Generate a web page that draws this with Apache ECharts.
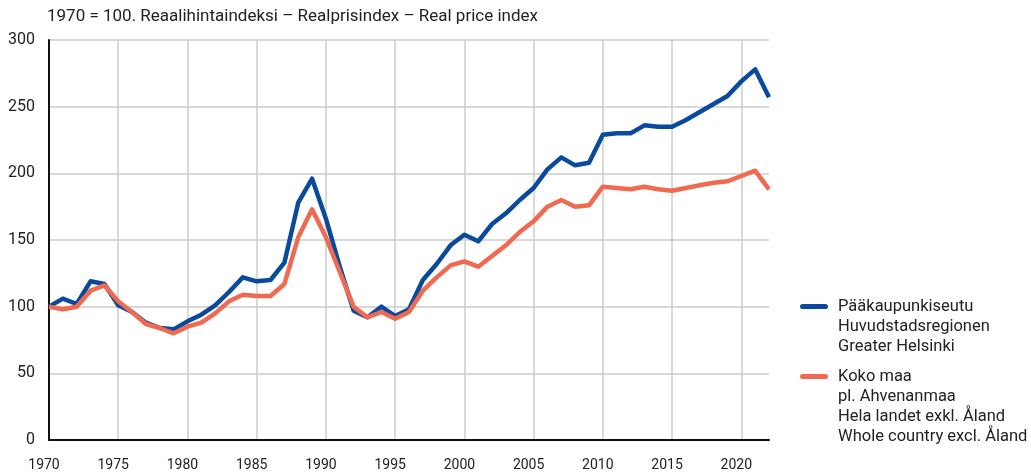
<!DOCTYPE html>
<html>
<head>
<meta charset="utf-8">
<script src="https://cdn.jsdelivr.net/npm/echarts@6/dist/echarts.min.js"></script>
<style>
html,body{margin:0;padding:0;background:#fff;}
#chart{width:1031px;height:476px;}
</style>
</head>
<body>
<div id="chart"></div>
<script>
const years = ['1970','1971','1972','1973','1974','1975','1976','1977','1978','1979',
  '1980','1981','1982','1983','1984','1985','1986','1987','1988','1989',
  '1990','1991','1992','1993','1994','1995','1996','1997','1998','1999',
  '2000','2001','2002','2003','2004','2005','2006','2007','2008','2009',
  '2010','2011','2012','2013','2014','2015','2016','2017','2018','2019',
  '2020','2021','2022'];
const helsinki = [100,106,102,119,117,101,96,88,84,83,
  89,94,101,111,122,119,120,133,178,196,
  166,130,97,92,100,93,98,120,132,146,
  154,149,162,170,180,189,203,212,206,208,
  229,230,230,236,235,235,240,246,252,258,
  269,278,257];
const wholeCountry = [100,98,100,112,116,104,96,87,84,80,
  85,88,95,104,109,108,108,117,152,173,
  152,126,100,92,96,91,96,112,122,131,
  134,130,138,146,156,164,175,180,175,176,
  190,189,188,190,188,187,189,191,193,194,
  198,202,188];
const seriesNames = ['Pääkaupunkiseutu\nHuvudstadsregionen\nGreater Helsinki',
  'Koko maa\npl. Ahvenanmaa\nHela landet exkl. Åland\nWhole country excl. Åland'];
const titleText = '1970 = 100. Reaalihintaindeksi – Realprisindex – Real price index';

const FONT = "Roboto, 'Noto Sans', sans-serif";
const BLUE = '#0a4a9c';
const ORANGE = '#ef6a50';
const TXT = '#222';

const chart = echarts.init(document.getElementById('chart'), null, {renderer:'canvas'});
chart.setOption({
  animation:false,
  textStyle:{fontFamily:FONT},
  title:{text:titleText, left:47, top:8, padding:0,
    textStyle:{fontFamily:FONT, fontSize:17, fontWeight:'normal', color:TXT}},
  grid:{left:49, right:262, top:40, bottom:36, containLabel:false},
  xAxis:{type:'category', data:years, boundaryGap:false,
    axisLine:{show:true, lineStyle:{color:'#111', width:2}},
    axisTick:{show:false},
    axisLabel:{interval:4, fontFamily:FONT, fontSize:14, color:TXT, margin:18, padding:[0,10,0,0]},
    splitLine:{show:true, interval:4, lineStyle:{color:'#cccccc', width:1.5}}},
  yAxis:{type:'value', min:0, max:300, interval:50,
    axisLine:{show:true, lineStyle:{color:'#111', width:2}},
    axisTick:{show:false},
    axisLabel:{fontFamily:FONT, fontSize:16, color:TXT, margin:14},
    splitLine:{show:true, lineStyle:{color:'#cccccc', width:1.5}}},
  graphic:[
    {type:'rect', left:800, top:304, shape:{width:28, height:5, r:2.5}, style:{fill:BLUE}},
    {type:'text', left:838, top:297, style:{text:seriesNames[0], font:'16.5px ' + FONT, lineHeight:20, fill:TXT}},
    {type:'rect', left:800, top:374, shape:{width:28, height:5, r:2.5}, style:{fill:ORANGE}},
    {type:'text', left:838, top:367, style:{text:seriesNames[1], font:'16.5px ' + FONT, lineHeight:20, fill:TXT}}
  ],
  series:[
    {name:seriesNames[0], type:'line', data:helsinki, symbol:'none', z:3,
      itemStyle:{color:BLUE}, lineStyle:{color:BLUE, width:4.5, join:'round'}},
    {name:seriesNames[1], type:'line', data:wholeCountry, symbol:'none', z:4,
      itemStyle:{color:ORANGE}, lineStyle:{color:ORANGE, width:4.5, join:'round'}}
  ]
});
</script>
</body>
</html>
